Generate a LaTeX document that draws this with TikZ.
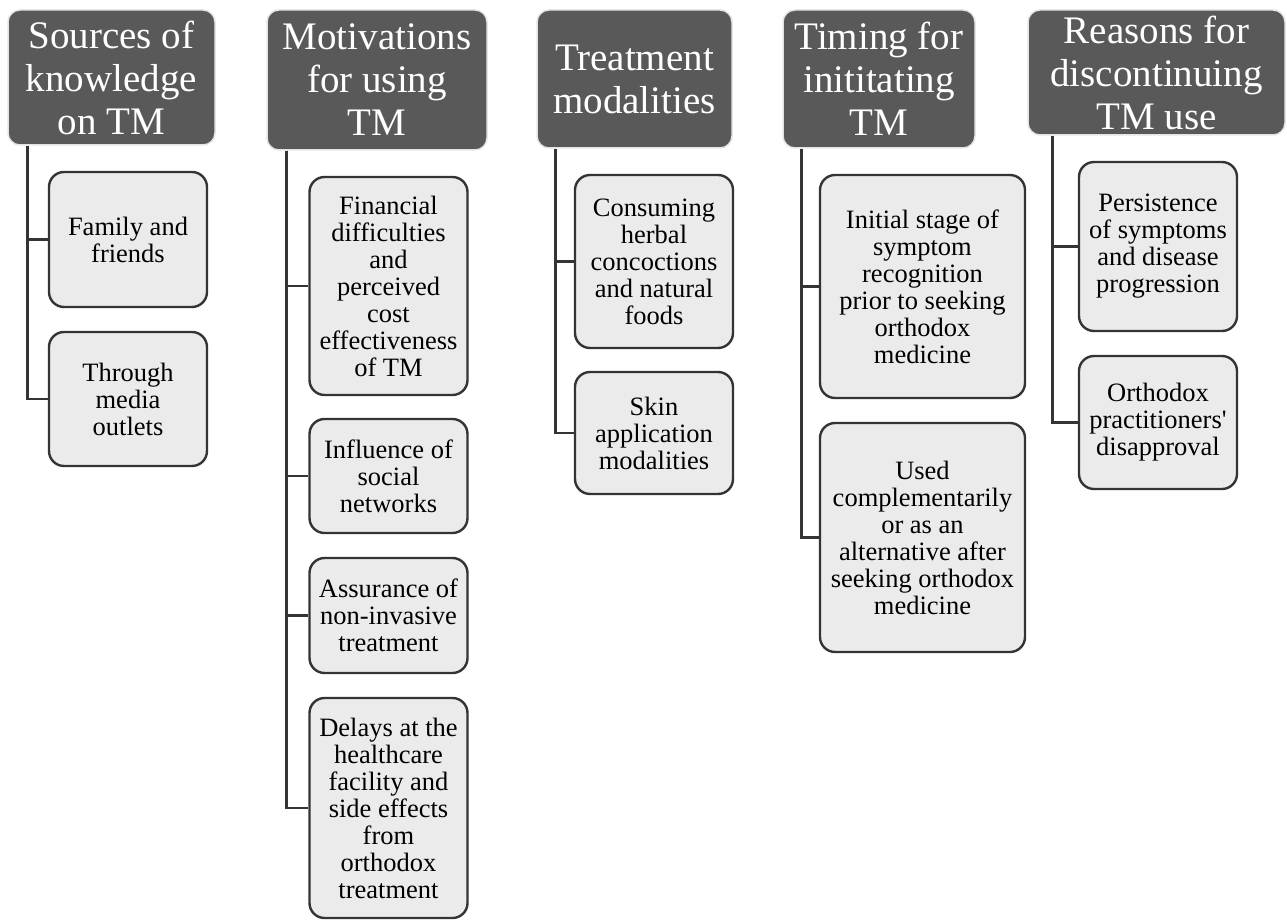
\documentclass[tikz,border=0pt]{standalone}
\usepackage{fontspec}
\setmainfont{Liberation Serif}
\usetikzlibrary{positioning}
\definecolor{headgray}{RGB}{89,89,89}
\definecolor{leafgray}{RGB}{235,235,235}
\definecolor{edgegray}{RGB}{52,52,52}

\begin{document}
\begin{tikzpicture}[
  x=1pt, y=-1pt,
  head/.style={draw=gray!20, fill=headgray, text=white, rounded corners=12pt, line width=1.5pt, align=center, inner sep=2pt, font=\fontsize{39}{43}\selectfont},
  leaf/.style={draw=edgegray, fill=leafgray, rounded corners=15pt, line width=2.4pt, align=center, inner sep=2pt, minimum width=158pt, font=\fontsize{26.5}{27}\selectfont},
  link/.style={draw=edgegray, line width=2.6pt}
]
  \useasboundingbox[fill=white] (0,0) rectangle (1287,920);

  % Themes
  \node[head, minimum width=207pt, minimum height=135pt] (src) at (111.5,77.5) {Sources of\\knowledge\\on TM};
  \node[head, minimum width=220pt, minimum height=140pt] (mot) at (377,80) {Motivations\\for using\\TM};
  \node[head, minimum width=195pt, minimum height=138pt] (trt) at (634.5,79) {Treatment\\modalities};
  \node[head, minimum width=192pt, minimum height=138pt] (tim) at (879,79) {Timing for\\inititating\\TM};
  \node[head, minimum width=257pt, minimum height=125pt] (rsn) at (1156.5,72.5) {Reasons for\\discontinuing\\TM use};

  % Subthemes
  \node[leaf, minimum height=135pt] (src1) at (128,239.5) {Family and\\friends};
  \node[leaf, minimum height=134pt] (src2) at (128,399) {Through\\media\\outlets};

  \node[leaf, minimum height=218pt] (mot1) at (388.5,286) {Financial\\difficulties\\and\\perceived\\cost\\effectiveness\\of TM};
  \node[leaf, minimum height=114pt] (mot2) at (388.5,476) {Influence of\\social\\networks};
  \node[leaf, minimum height=115pt] (mot3) at (388.5,615.5) {Assurance of\\non-invasive\\treatment};
  \node[leaf, minimum height=220pt] (mot4) at (388.5,808) {Delays at the\\healthcare\\facility and\\side effects\\from\\orthodox\\treatment};

  \node[leaf, minimum height=173pt] (trt1) at (654,261.5) {Consuming\\herbal\\concoctions\\and natural\\foods};
  \node[leaf, minimum height=122pt] (trt2) at (654,433) {Skin\\application\\modalities};

  \node[leaf, minimum width=205pt, minimum height=223pt] (tim1) at (922.5,286.5) {Initial stage of\\symptom\\recognition\\prior to seeking\\orthodox\\medicine};
  \node[leaf, minimum width=205pt, minimum height=229pt] (tim2) at (922.5,537.5) {Used\\complementarily\\or as an\\alternative after\\seeking orthodox\\medicine};

  \node[leaf, minimum height=169pt] (rsn1) at (1158,246.5) {Persistence\\of symptoms\\and disease\\progression};
  \node[leaf, minimum height=133pt] (rsn2) at (1158,422.5) {Orthodox\\practitioners\textquotesingle\\disapproval};

  % Links
  \foreach \h/\s/\k in {src/20/2, mot/20/4, trt/19/2, tim/19/2, rsn/25/2}
    \foreach \i in {1,...,\k}
      \draw[link] ([xshift=\s pt]\h.south west) |- (\h\i.west);

\end{tikzpicture}
\end{document}
